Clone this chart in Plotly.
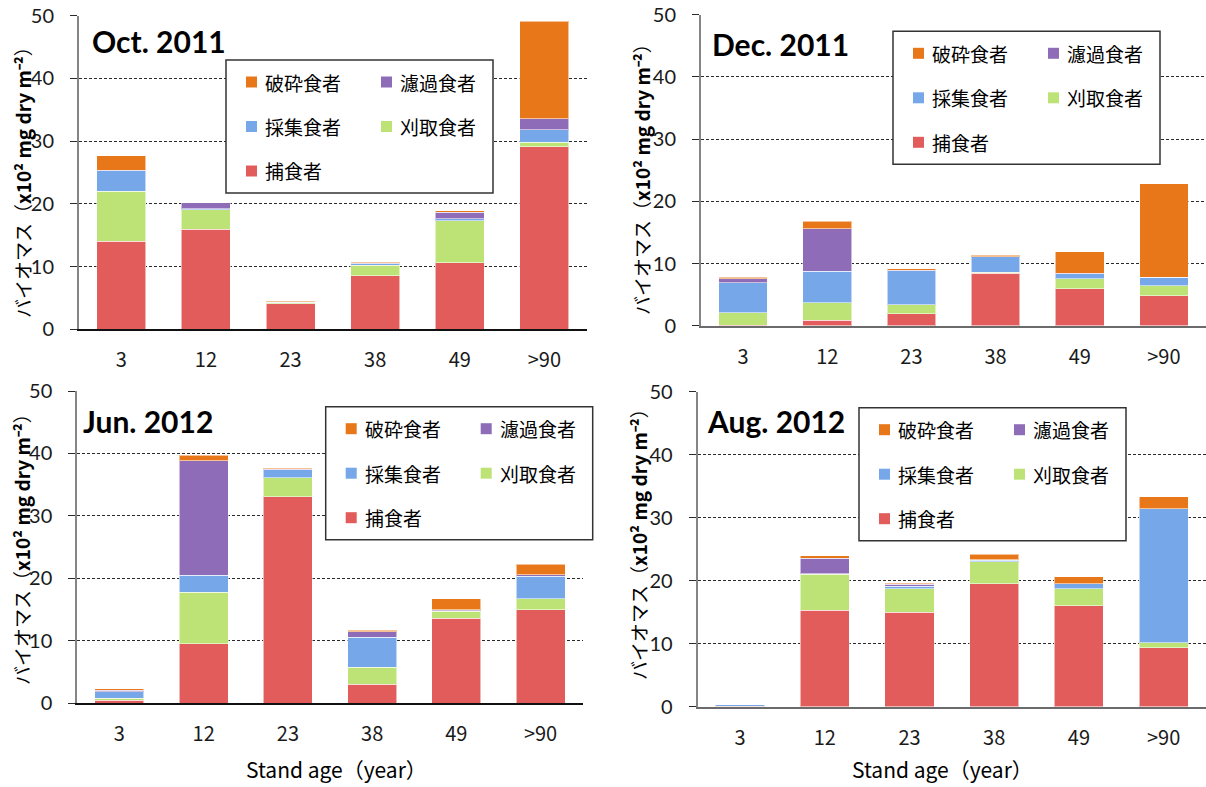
import plotly.graph_objects as go

W, H = 1206, 787

stand_age = ["3", "12", "23", "38", "49", ">90"]

# Functional feeding groups, listed from the bottom of each stack to the top
group_names = ["捕食者", "刈取食者", "採集食者", "濾過食者", "破砕食者"]
group_colors = ["#E15C5A", "#BDE276", "#75A7E9", "#8E6CB8", "#E87719"]

# Oct. 2011 (x10^2 mg dry m^-2)
oct11_predator = [14.0, 15.95, 4.1, 8.55, 10.6, 29.1]
oct11_scraper = [8.05, 3.1, 0.15, 1.7, 6.7, 0.7]
oct11_collector = [3.2, 0.15, 0.05, 0.2, 0.3, 2.0]
oct11_filterer = [0.1, 0.95, 0.0, 0.05, 1.05, 1.75]
oct11_shredder = [2.35, 0.0, 0.2, 0.18, 0.25, 15.6]

# Dec. 2011
dec11_predator = [0.05, 0.9, 1.9, 8.4, 5.9, 4.85]
dec11_scraper = [2.05, 2.75, 1.45, 0.2, 1.65, 1.55]
dec11_collector = [4.8, 5.1, 5.45, 2.5, 0.8, 1.4]
dec11_filterer = [0.65, 6.85, 0.1, 0.0, 0.05, 0.0]
dec11_shredder = [0.27, 1.2, 0.25, 0.2, 3.45, 15.05]

# Jun. 2012
jun12_predator = [0.5, 9.5, 33.1, 3.05, 13.6, 14.95]
jun12_scraper = [0.3, 8.3, 3.0, 2.75, 1.15, 1.8]
jun12_collector = [1.05, 2.7, 1.3, 4.75, 0.1, 3.6]
jun12_filterer = [0.25, 18.35, 0.05, 0.9, 0.15, 0.25]
jun12_shredder = [0.2, 0.9, 0.2, 0.27, 1.75, 1.65]

# Aug. 2012
aug12_predator = [0.05, 15.35, 15.0, 19.5, 16.0, 9.35]
aug12_scraper = [0.0, 5.65, 3.75, 3.5, 2.75, 0.8]
aug12_collector = [0.3, 0.1, 0.4, 0.25, 0.75, 21.3]
aug12_filterer = [0.0, 2.5, 0.25, 0.05, 0.05, 0.0]
aug12_shredder = [0.0, 0.4, 0.2, 0.9, 1.1, 1.9]

panel_titles = ["Oct. 2011", "Dec. 2011", "Jun. 2012", "Aug. 2012"]
panel_series = [
    [oct11_predator, oct11_scraper, oct11_collector, oct11_filterer, oct11_shredder],
    [dec11_predator, dec11_scraper, dec11_collector, dec11_filterer, dec11_shredder],
    [jun12_predator, jun12_scraper, jun12_collector, jun12_filterer, jun12_shredder],
    [aug12_predator, aug12_scraper, aug12_collector, aug12_filterer, aug12_shredder],
]

# Pixel geometry of each panel: plot left/right, y of 0 and of 50
panel_geom = [
    dict(x0=79, x1=586.7, yz=329.3, yt=15.7, xline="#111111",
         title=(90, 41), ytitle=(22, 178), legend=(226, 60), xtitle=None),
    dict(x0=701, x1=1206, yz=325.7, yt=14.7, xline="#6b6b6b",
         title=(710, 44), ytitle=(641, 175), legend=(893, 31.3), xtitle=None),
    dict(x0=77.3, x1=582.7, yz=703.3, yt=391, xline="#111111",
         title=(81, 421), ytitle=(21, 545), legend=(325.7, 406.7), xtitle=(336, 769)),
    dict(x0=697.7, x1=1206, yz=706.7, yt=391.7, xline="#6b6b6b",
         title=(705, 421), ytitle=(638, 540), legend=(859, 407.7), xtitle=(942, 769)),
]


def px(x):
    return x / W


def py(y):
    return 1 - y / H


fig = go.Figure()
layout = dict(
    width=W, height=H, margin=dict(l=0, r=0, t=0, b=0, pad=0, autoexpand=False),
    paper_bgcolor="white", plot_bgcolor="rgba(0,0,0,0)",
    barmode="stack", bargap=0.42, showlegend=False,
    annotations=[], shapes=[],
)

tick_font_y = dict(family="Lato, Carlito, sans-serif", size=20, color="#1a1a1a")
tick_font_x = dict(family="Noto Sans CJK JP, sans-serif", size=20, color="#1a1a1a")
jp_font = "Noto Sans CJK JP, sans-serif"

for i, (title, series, g) in enumerate(zip(panel_titles, panel_series, panel_geom)):
    n = "" if i == 0 else str(i + 1)
    xa, ya = "x" + n, "y" + n
    for name, color, values in zip(group_names, group_colors, series):
        fig.add_trace(go.Bar(
            x=stand_age, y=values, name=name, xaxis=xa, yaxis=ya,
            marker=dict(color=color, line=dict(color="rgba(255,255,255,0.55)", width=1)),
        ))

    layout["xaxis" + n] = dict(
        domain=[px(g["x0"]), min(1.0, px(g["x1"]))], anchor=ya,
        type="category", range=[-0.5, 5.5], automargin=False,
        showline=True, linecolor=g["xline"], linewidth=2,
        showgrid=False, zeroline=False, ticks="",
        tickfont=tick_font_x, ticklabelstandoff=12,
    )
    layout["yaxis" + n] = dict(
        domain=[py(g["yz"]), py(g["yt"])], anchor=xa, automargin=False,
        range=[0, 50], dtick=10, tick0=0,
        showgrid=True, gridcolor="#2a2a2a", gridwidth=1, griddash="3px,2px",
        showline=True, linecolor="#858585", linewidth=2,
        ticks="outside", ticklen=7, tickcolor="#2a2a2a", tickwidth=1,
        zeroline=False, tickfont=tick_font_y, ticklabelstandoff=12,
    )

    # Panel heading
    tx, ty = g["title"]
    layout["annotations"].append(dict(
        text=title, x=px(tx), y=py(ty), xref="paper", yref="paper",
        xanchor="left", yanchor="middle", showarrow=False,
        font=dict(family="Lato, Carlito, sans-serif", size=30, color="black", weight="bold"),
    ))

    # Vertical axis title
    yx, yy = g["ytitle"]
    layout["annotations"].append(dict(
        text="バイオマス（<b>x10² mg dry m⁻²</b>）",
        x=px(yx), y=py(yy), xref="paper", yref="paper", textangle=-90,
        xanchor="center", yanchor="middle", showarrow=False,
        font=dict(family=jp_font, size=19, color="black"),
    ))

    # Horizontal axis title (bottom row only)
    if g["xtitle"]:
        sx, sy = g["xtitle"]
        layout["annotations"].append(dict(
            text="Stand age（year）", x=px(sx), y=py(sy), xref="paper", yref="paper",
            xanchor="center", yanchor="middle", showarrow=False,
            font=dict(family=jp_font, size=21, color="black"),
        ))

    # Boxed two-column legend
    bx, by = g["legend"]
    layout["shapes"].append(dict(
        type="rect", xref="paper", yref="paper", layer="above",
        x0=px(bx), x1=px(bx + 267), y0=py(by), y1=py(by + 133),
        fillcolor="white", line=dict(color="#333333", width=1.5),
    ))
    # (group index, column, row) in reading order
    slots = [(4, 0, 0), (3, 1, 0), (2, 0, 1), (1, 1, 1), (0, 0, 2)]
    for gi, col, row in slots:
        sx0 = bx + (20 if col == 0 else 155)
        cy = by + 22 + row * 44.5
        layout["shapes"].append(dict(
            type="rect", xref="paper", yref="paper", layer="above",
            x0=px(sx0), x1=px(sx0 + 11), y0=py(cy - 5.5), y1=py(cy + 5.5),
            fillcolor=group_colors[gi], line=dict(width=0),
        ))
        layout["annotations"].append(dict(
            text=group_names[gi], x=px(sx0 + 17), y=py(cy), xref="paper", yref="paper",
            xanchor="left", yanchor="middle", showarrow=False,
            font=dict(family=jp_font, size=19, color="black"),
        ))

fig.update_layout(**layout)
fig.write_html("out.html")
